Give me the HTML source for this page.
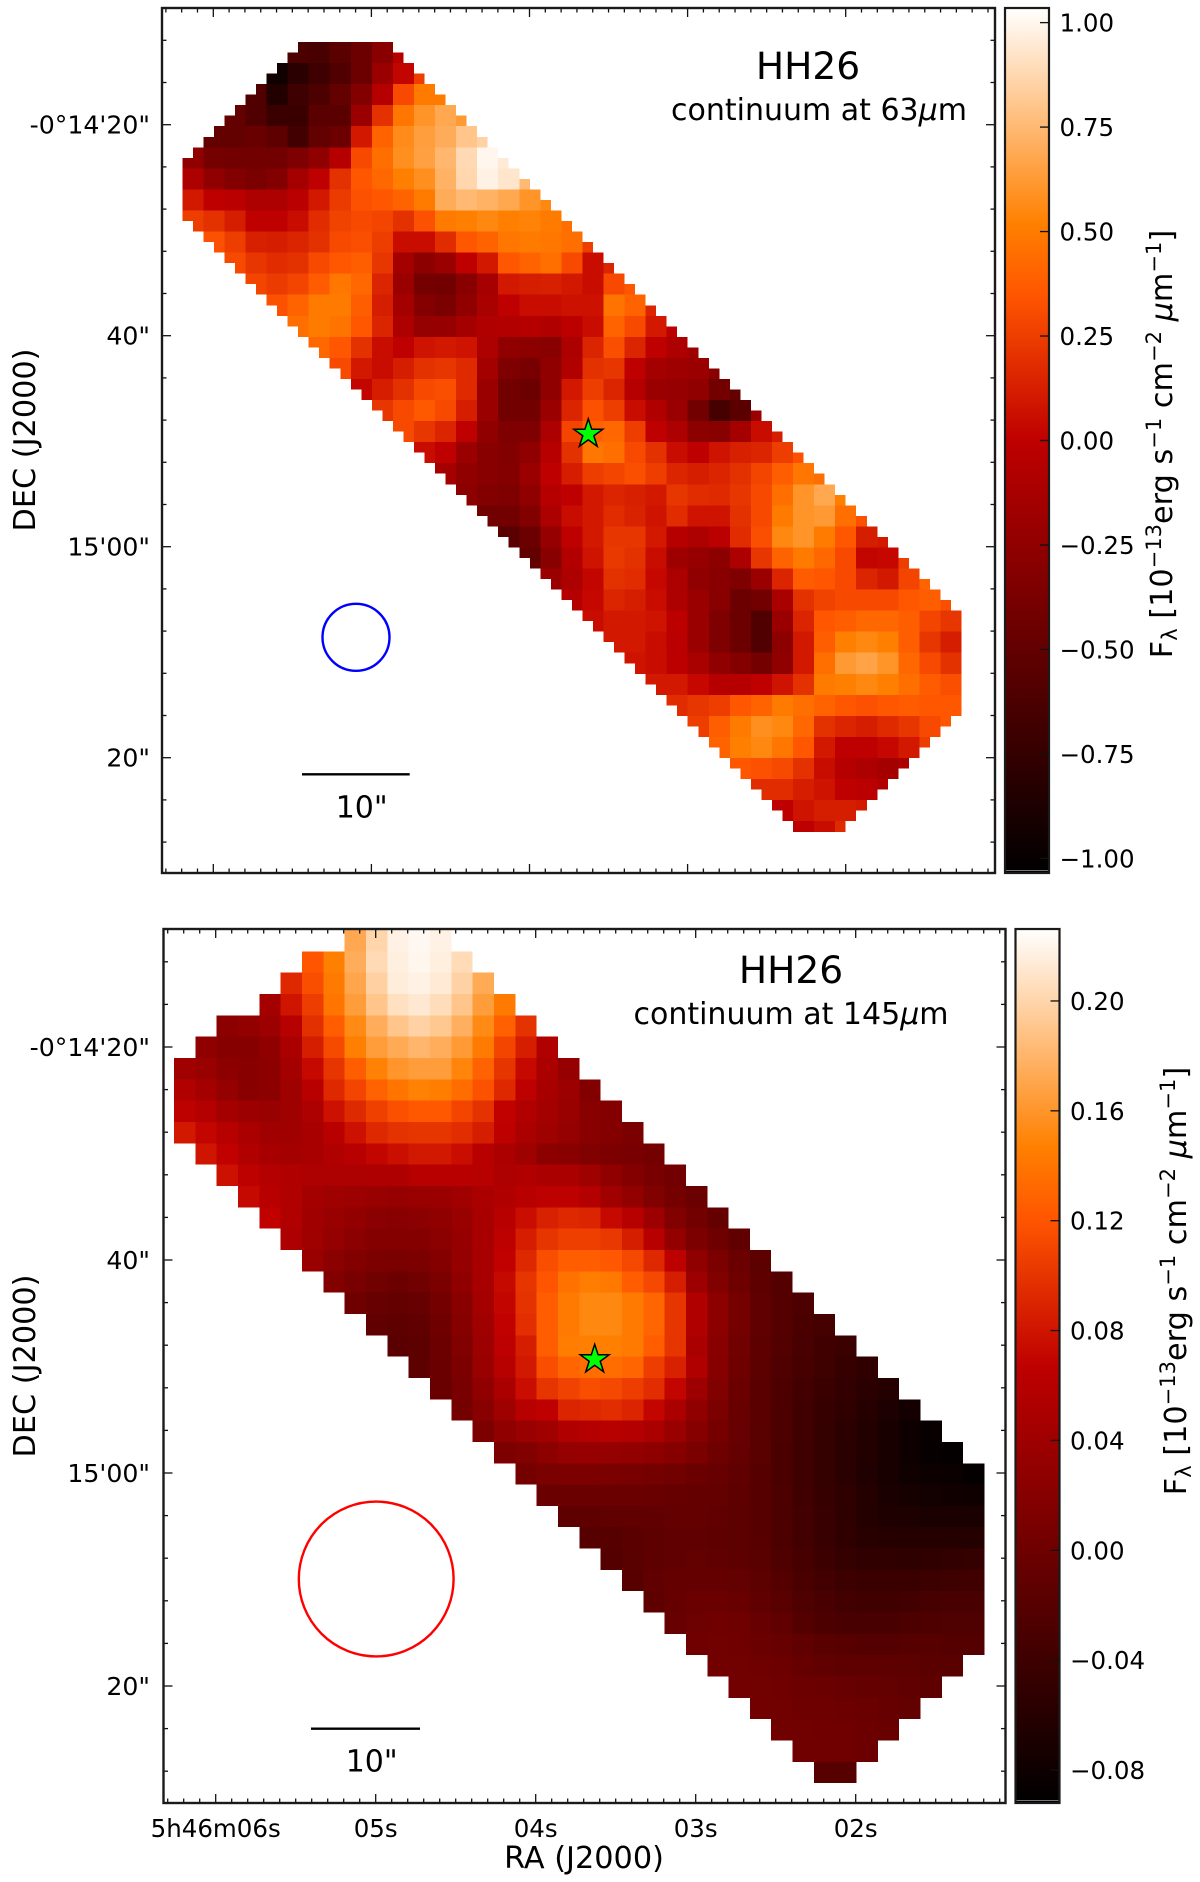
<!DOCTYPE html>
<html lang="en">
<head>
<meta charset="utf-8">
<title>HH26 continuum maps</title>
<style>
html,body{margin:0;padding:0;background:#fff;}
svg{display:block;font-family:"DejaVu Sans","Liberation Sans",sans-serif;fill:#000;}
.tick{font-size:24.5px;}
.ytick{font-size:25.2px;}
.axis{font-size:30.3px;}
.head{font-size:37.6px;}
.sub{font-size:30px;}
</style>
</head>
<body>
<svg id="fig" xmlns="http://www.w3.org/2000/svg" width="1200" height="1882" viewBox="0 0 1200 1882">
  <rect x="0" y="0" width="1200" height="1882" fill="#fff"/>
  <defs>
    <linearGradient id="heatGrad" x1="0" y1="1" x2="0" y2="0"></linearGradient>
  </defs>

  <g id="panel63">
    <g id="heat63"></g>
    <circle cx="356" cy="637.3" r="33.5" fill="none" stroke="#0000ff" stroke-width="2.4"/>
    <line x1="302" x2="409.7" y1="774.3" y2="774.3" stroke="#000" stroke-width="2.4"/>
    <text class="sub" x="361.7" y="817.7" text-anchor="middle">10&quot;</text>
    <text class="head" x="808" y="79" text-anchor="middle">HH26</text>
    <text class="sub" x="819" y="120" text-anchor="middle">continuum at 63<tspan font-style="italic">μ</tspan>m</text>
    <polygon id="star63" fill="#00ff00" stroke="#000" stroke-width="1.5"/>
    <g id="axes63"></g>
    <text class="axis" transform="translate(35,440) rotate(-90)" text-anchor="middle">DEC (J2000)</text>
    <g id="cbar63"></g>
    <text class="axis" transform="translate(1172,444) rotate(-90)" text-anchor="middle">F<tspan dy="5" font-size="21">λ</tspan><tspan dy="-5"> [10</tspan><tspan dy="-11" font-size="21">−13</tspan><tspan dy="11">erg s</tspan><tspan dy="-11" font-size="21">−1</tspan><tspan dy="11"> cm</tspan><tspan dy="-11" font-size="21">−2</tspan><tspan dy="11"> </tspan><tspan font-style="italic">μ</tspan><tspan>m</tspan><tspan dy="-11" font-size="21">−1</tspan><tspan dy="11">]</tspan></text>
  </g>

  <g id="panel145">
    <g id="heat145"></g>
    <circle cx="376.2" cy="1579" r="77.4" fill="none" stroke="#ff0000" stroke-width="2.4"/>
    <line x1="311" x2="420" y1="1728.7" y2="1728.7" stroke="#000" stroke-width="2.4"/>
    <text class="sub" x="371.7" y="1771.7" text-anchor="middle">10&quot;</text>
    <text class="head" x="791" y="983" text-anchor="middle">HH26</text>
    <text class="sub" x="791" y="1024" text-anchor="middle">continuum at 145<tspan font-style="italic">μ</tspan>m</text>
    <polygon id="star145" fill="#00ff00" stroke="#000" stroke-width="1.5"/>
    <g id="axes145"></g>
    <text class="axis" transform="translate(35,1366) rotate(-90)" text-anchor="middle">DEC (J2000)</text>
    <text class="axis" x="584" y="1868" text-anchor="middle">RA (J2000)</text>
    <g id="cbar145"></g>
    <text class="axis" transform="translate(1186,1281) rotate(-90)" text-anchor="middle">F<tspan dy="5" font-size="21">λ</tspan><tspan dy="-5"> [10</tspan><tspan dy="-11" font-size="21">−13</tspan><tspan dy="11">erg s</tspan><tspan dy="-11" font-size="21">−1</tspan><tspan dy="11"> cm</tspan><tspan dy="-11" font-size="21">−2</tspan><tspan dy="11"> </tspan><tspan font-style="italic">μ</tspan><tspan>m</tspan><tspan dy="-11" font-size="21">−1</tspan><tspan dy="11">]</tspan></text>
  </g>
</svg>

<script>
// ---- tick data ----
const raSeconds = [6, 5, 4, 3, 2];
const raLabels = ["5h46m06s", "05s", "04s", "03s", "02s"];
const decOffsets = [20, 40, 60, 80];
const decLabels = ["-0°14'20\"", "40\"", "15'00\"", "20\""];
const cbarTicks63 = [1.00, 0.75, 0.50, 0.25, 0.00, -0.25, -0.50, -0.75, -1.00];
const cbarTicks145 = [0.20, 0.16, 0.12, 0.08, 0.04, 0.00, -0.04, -0.08];

// ---- flux maps: 63 um rows in units of 0.01 (each value covers 2x2 map pixels),
// every row starts at the first column inside the scan footprint ----
const flux63Rows = [
[-62,-64,-55,-45,-30,-5],
[-95,-80,-70,-60,-45,-20,2,25],
[-60,-85,-70,-62,-50,-33,-5,30,50,50],
[-50,-60,-72,-72,-55,-55,-20,20,48,60,68,62],
[-50,-50,-47,-52,-68,-50,-45,10,40,57,64,70,80,85],
[-25,-40,-42,-42,-42,-35,-25,-5,30,45,58,65,74,88,100,95],
[-10,-25,-33,-37,-33,-15,0,20,35,42,52,58,72,87,98,93,75],
[10,0,-3,-10,-10,-3,10,24,33,35,40,50,70,75,72,68,60,55],
[25,20,12,0,0,5,18,27,30,28,20,33,50,52,55,52,53,50,45],
[33,25,13,12,15,20,30,32,25,5,5,18,35,40,48,50,48,45,25],
[30,22,18,20,30,35,38,22,-15,-27,-20,0,10,35,40,45,30,5,15],
[28,24,28,37,48,42,15,-20,-40,-42,-30,-13,10,12,13,10,5,30,35],
[33,40,50,50,38,12,-15,-32,-37,-25,-12,0,5,5,7,7,47,40,15],
[45,50,47,35,15,-10,-23,-22,-15,-8,-7,-5,-8,-2,5,40,30,10,-2],
[42,35,20,5,0,8,10,8,-10,-25,-28,-30,-10,15,32,15,0,-10,-18],
[30,10,5,12,20,22,17,-15,-35,-38,-25,-8,20,22,0,-15,-18,-20,-30],
[2,12,20,30,32,17,-20,-42,-45,-25,10,25,15,-5,-20,-22,-25,-42,-50],
[22,30,36,30,12,-20,-42,-42,-20,15,33,25,5,-8,-20,-42,-65,-55,-20],
[30,22,15,0,-25,-35,-35,-10,28,40,42,25,0,-10,-28,-30,-15,5,12],
[5,0,-20,-30,-33,-25,-5,20,48,45,30,20,5,0,8,13,15,25,33],
[-15,-25,-30,-32,-20,0,12,25,28,32,25,15,12,15,20,28,38,48,45],
[-28,-33,-35,-25,-5,0,10,15,13,10,22,18,17,22,30,45,60,68,52],
[-42,-42,-33,-10,5,10,18,14,8,18,8,8,20,30,50,60,62,45,33],
[-55,-45,-22,0,10,22,22,10,-5,-10,-3,18,32,55,60,50,35,12,10],
[-50,-30,-7,8,23,20,5,-18,-22,-27,-10,22,40,50,42,30,2,3,25],
[-20,-10,2,20,18,3,-10,-25,-30,-35,-20,15,37,35,30,15,10,28,40],
[-5,3,15,12,5,-10,-20,-30,-45,-42,-12,20,27,30,30,30,35,38,32],
[5,10,10,8,-2,-20,-35,-45,-60,-20,15,35,38,42,42,38,28,22],
[10,10,5,-3,-20,-35,-45,-60,-28,10,38,52,55,52,38,22,12],
[8,5,-2,-12,-25,-32,-40,-25,10,45,62,66,60,42,30,20],
[10,10,3,-5,-5,0,8,20,50,52,55,52,45,37,32],
[18,22,25,35,40,50,45,40,35,33,35,37,35,35],
[25,38,50,58,55,42,20,15,12,17,22,30,35],
[40,52,55,48,35,10,0,0,3,10,25],
[35,33,30,20,5,-5,-10,-15,-10],
[18,18,12,8,0,-3,-8],
[0,8,12,12,10],
[-2,5,17]
];

// ---- 145 um rows in units of 0.001, one value per map pixel ----
const flux145Rows = [
[172,200,218,222,218],
[120,147,175,203,216,221,216,204],
[92,115,143,170,197,215,218,213,198,173],
[45,80,105,140,165,190,207,212,205,190,165,143],
[25,30,38,60,97,125,153,175,190,198,192,176,153,127,98],
[28,20,20,28,50,85,113,147,165,173,180,175,163,143,110,85,55],
[42,35,25,22,25,45,72,100,126,148,160,165,165,150,128,100,72,50,33],
[55,45,32,22,25,40,62,92,110,128,140,148,146,135,118,92,65,48,38,16],
[65,58,45,38,35,40,52,78,93,107,117,122,122,110,98,68,55,45,35,22,18],
[83,70,60,50,42,42,48,62,78,92,98,100,100,95,85,65,50,40,32,22,18,10],
[80,68,55,48,45,48,55,62,70,76,82,82,75,62,50,40,25,22,15,12,8,5],
[78,65,58,55,52,52,52,53,53,60,62,62,60,52,55,50,50,40,28,18,8,3],
[72,62,55,45,40,38,35,33,35,36,42,50,55,62,65,65,58,42,30,15,5,-3],
[68,55,42,35,30,24,22,24,28,35,48,62,75,88,92,90,72,60,38,15,3,-8],
[52,40,32,24,18,18,18,24,33,48,65,85,100,106,106,102,85,62,30,12,0,-12],
[35,24,16,12,10,12,18,32,48,68,92,115,125,125,122,112,92,65,28,10,-3,-15],
[16,8,2,-2,2,10,28,48,72,100,120,138,145,142,125,112,85,38,15,0,-14,-22],
[0,-6,-8,-6,5,22,45,70,98,125,143,152,152,143,130,100,55,25,5,-12,-22,-28],
[-12,-14,-12,0,20,40,68,96,125,143,152,152,143,130,100,55,25,5,-12,-22,-30,-35],
[-17,-15,-2,15,38,65,85,125,145,147,147,143,125,100,50,22,2,-14,-24,-32,-38,-43],
[-15,-3,12,35,60,82,115,130,135,135,130,105,88,55,20,0,-15,-26,-33,-40,-46,-52],
[-5,8,28,50,75,100,108,115,112,105,95,70,38,15,-3,-17,-28,-36,-44,-50,-56,-62],
[5,22,40,60,67,90,92,95,90,70,50,28,10,-5,-17,-28,-38,-46,-52,-60,-68,-75],
[12,28,35,42,55,58,60,58,50,35,20,6,-6,-18,-28,-38,-48,-55,-63,-72,-80,-85],
[12,15,25,32,34,32,30,26,20,10,0,-8,-18,-30,-40,-48,-56,-64,-72,-80,-86,-88],
[5,10,12,12,10,8,5,2,-3,-6,-12,-20,-30,-40,-48,-56,-65,-72,-78,-82,-84,-88],
[-3,-3,-3,-3,-4,-5,-7,-8,-10,-14,-20,-28,-38,-46,-54,-62,-70,-74,-76,-78,-80],
[-14,-14,-12,-12,-12,-10,-10,-12,-15,-20,-28,-36,-45,-54,-62,-66,-68,-70,-70,-70],
[-20,-20,-17,-14,-12,-12,-13,-15,-20,-28,-36,-45,-52,-58,-60,-62,-62,-62,-62],
[-22,-18,-14,-11,-10,-11,-13,-18,-26,-34,-42,-48,-52,-52,-53,-52,-50,-48],
[-20,-12,-9,-8,-8,-10,-15,-22,-30,-37,-42,-44,-44,-44,-42,-40,-38],
[-14,-7,-4,-3,-5,-11,-18,-26,-32,-36,-38,-38,-36,-33,-32,-32],
[-6,-1,1,0,-6,-12,-22,-28,-31,-32,-32,-28,-27,-26,-26],
[1,2,1,-3,-6,-12,-18,-20,-22,-22,-20,-20,-22,-22],
[3,2,0,-2,-7,-11,-13,-13,-14,-15,-16,-18],
[3,2,0,-2,-4,-6,-8,-10,-12,-14],
[3,2,0,0,-2,-4,-7,-10],
[2,2,1,0,-2,-5],
[1,1,0,-2],
[-20,-20]
];

const NS = "http://www.w3.org/2000/svg";
function make(tag, attrs, parent) {
  const el = document.createElementNS(NS, tag);
  for (const k in attrs) el.setAttribute(k, attrs[k]);
  parent.appendChild(el);
  return el;
}
function clamp(v) { return Math.max(0, Math.min(1, v)); }
function gistHeat(t) {
  const r = Math.round(255 * clamp(1.5 * t));
  const g = Math.round(255 * clamp(2 * t - 1));
  const b = Math.round(255 * clamp(4 * t - 3));
  return "rgb(" + r + "," + g + "," + b + ")";
}

// shared colourbar gradient
const grad = document.getElementById("heatGrad");
[0, 0.5, 2 / 3, 0.75, 1].forEach(function (t) {
  make("stop", { offset: t, "stop-color": gistHeat(t) }, grad);
});

// ---- 63 um panel scales ----
const vmin63 = -1.035, vmax63 = 1.035;
function color63(v) { return gistHeat((v - vmin63) / (vmax63 - vmin63)); }
function first63(r) { return Math.max(11 - r, r - 16, 0); }
function last63(r) { return Math.min(19 + r, 73, 136 - r); }
function cellX63(c) { return 182.3 + c * 10.53; }
function cellY63(r) { return 42 + r * 10.53; }

const heat63 = document.getElementById("heat63");
for (let r = 0; r < 75; r++) {
  const cr = r >> 1;
  const row = flux63Rows[cr];
  const start = Math.min(first63(2 * cr), first63(2 * cr + 1)) >> 1;
  for (let c = first63(r); c <= last63(r); c++) {
    const v = row[(c >> 1) - start];
    if (v === undefined) continue;
    const el = make("rect", {
      x: cellX63(c).toFixed(2), y: cellY63(r).toFixed(2),
      width: (cellX63(c + 1) - cellX63(c)).toFixed(2), height: (cellY63(r + 1) - cellY63(r)).toFixed(2),
      fill: color63(v / 100), "shape-rendering": "crispEdges"
    }, heat63);
    
    
  }
}

// ---- 145 um panel scales ----
const vmin145 = -0.092, vmax145 = 0.2262;
const topRowStart145 = [8, 6, 5, 4, 2, 1, 0];
function color145(v) { return gistHeat((v - vmin145) / (vmax145 - vmin145)); }
function first145(r) { return r < 7 ? topRowStart145[r] : Math.max(0, r - 9); }
function cellX145(c) { return 174 + c * 21.33; }
function cellY145(r) { return 930 + r * 21.33; }

const heat145 = document.getElementById("heat145");
flux145Rows.forEach(function (row, r) {
  row.forEach(function (v, i) {
    const c = first145(r) + i;
    const el = make("rect", {
      x: cellX145(c).toFixed(2), y: cellY145(r).toFixed(2),
      width: (cellX145(c + 1) - cellX145(c)).toFixed(2), height: (cellY145(r + 1) - cellY145(r)).toFixed(2),
      fill: color145(v / 1000), "shape-rendering": "crispEdges"
    }, heat145);
    
    
  });
});

// ---- star markers ----
function starPoints(cx, cy, R) {
  const pts = [];
  for (let i = 0; i < 10; i++) {
    const rad = i % 2 ? R * 0.382 : R;
    const a = -Math.PI / 2 + i * Math.PI / 5;
    pts.push((cx + rad * Math.cos(a)).toFixed(2) + "," + (cy + rad * Math.sin(a)).toFixed(2));
  }
  return pts.join(" ");
}
document.getElementById("star63").setAttribute("points", starPoints(588.3, 434, 15.2));
document.getElementById("star145").setAttribute("points", starPoints(594.7, 1359.5, 15.2));

// ---- axes ----
function drawAxes(cfg) {
  const g = document.getElementById(cfg.id);
  const xPos = function (sec) { return cfg.x6 + (6 - sec) * cfg.xStep; };
  const yPos = function (dec) { return cfg.y20 + (dec - 20) * cfg.yStep; };
  const frame = cfg.frame;

  function tick(x1, y1, x2, y2, w) {
    const t = make("line", { x1: x1, y1: y1, x2: x2, y2: y2, stroke: "#111", "stroke-width": w }, g);
    
    
  }
  // minor ticks every 0.1 s and 4 arcsec
  for (let s = 70; s >= 0; s--) {
    const x = xPos(s / 10);
    if (x <= frame.l + 1 || x >= frame.r - 1) continue;
    const major = s % 10 === 0;
    const len = major ? 9 : 4.5;
    tick(x, frame.b, x, frame.b - len, 1.3);
    tick(x, frame.t, x, frame.t + len, 1.3);
  }
  for (let d = 0; d <= 100; d += 4) {
    const y = yPos(d);
    if (y <= frame.t + 1 || y >= frame.b - 1) continue;
    const major = d % 20 === 0;
    const len = major ? 9 : 4.5;
    tick(frame.l, y, frame.l + len, y, 1.3);
    tick(frame.r, y, frame.r - len, y, 1.3);
  }
  const box = make("rect", { x: frame.l, y: frame.t, width: frame.r - frame.l, height: frame.b - frame.t, fill: "none", stroke: "#1a1a1a", "stroke-width": 2.4 }, g);
  
  

  decOffsets.forEach(function (d, i) {
    const t = make("text", { x: 150, y: yPos(d) + 9, "text-anchor": "end", class: "ytick" }, g);
    t.textContent = decLabels[i];
    
    
  });
  if (cfg.xLabels) {
    raSeconds.forEach(function (s, i) {
      const t = make("text", { x: xPos(s), y: frame.b + 34, "text-anchor": "middle", class: "tick" }, g);
      t.textContent = raLabels[i];
      
      
    });
  }
}
drawAxes({ id: "axes63", x6: 213.3, xStep: 158.1, y20: 124.7, yStep: 10.55, frame: { l: 162, r: 995, t: 8, b: 873 }, xLabels: false });
drawAxes({ id: "axes145", x6: 215.7, xStep: 160, y20: 1047, yStep: 10.65, frame: { l: 163.5, r: 1005.5, t: 929, b: 1803 }, xLabels: true });

// ---- colourbars ----
function drawCbar(cfg) {
  const g = document.getElementById(cfg.id);
  const yPos = function (v) { return cfg.t + (cfg.vmax - v) / (cfg.vmax - cfg.vmin) * (cfg.b - cfg.t); };
  const body = make("rect", { x: cfg.l, y: cfg.t, width: cfg.r - cfg.l, height: cfg.b - cfg.t, fill: "url(#heatGrad)" }, g);
  
  
  const edge = make("line", { x1: cfg.l, x2: cfg.r, y1: cfg.b - 2.5, y2: cfg.b - 2.5, stroke: "#777", "stroke-width": 1 }, g);
  
  
  const box = make("rect", { x: cfg.l, y: cfg.t, width: cfg.r - cfg.l, height: cfg.b - cfg.t, fill: "none", stroke: "#1a1a1a", "stroke-width": 2.2 }, g);
  
  
  cfg.ticks.forEach(function (v) {
    const y = yPos(v);
    const m = make("line", { x1: cfg.r, x2: cfg.r - 9, y1: y, y2: y, stroke: "#111", "stroke-width": 1.3 }, g);
    
    
    const t = make("text", { x: cfg.r + 10.5, y: y + 9, class: "tick" }, g);
    t.textContent = v.toFixed(2).replace("-", "−");
    
    
  });
}
drawCbar({ id: "cbar63", l: 1005, r: 1049, t: 8, b: 873, vmin: vmin63, vmax: vmax63, ticks: cbarTicks63 });
drawCbar({ id: "cbar145", l: 1015.5, r: 1059.5, t: 929, b: 1803, vmin: vmin145, vmax: vmax145, ticks: cbarTicks145 });
</script>
</body>
</html>
